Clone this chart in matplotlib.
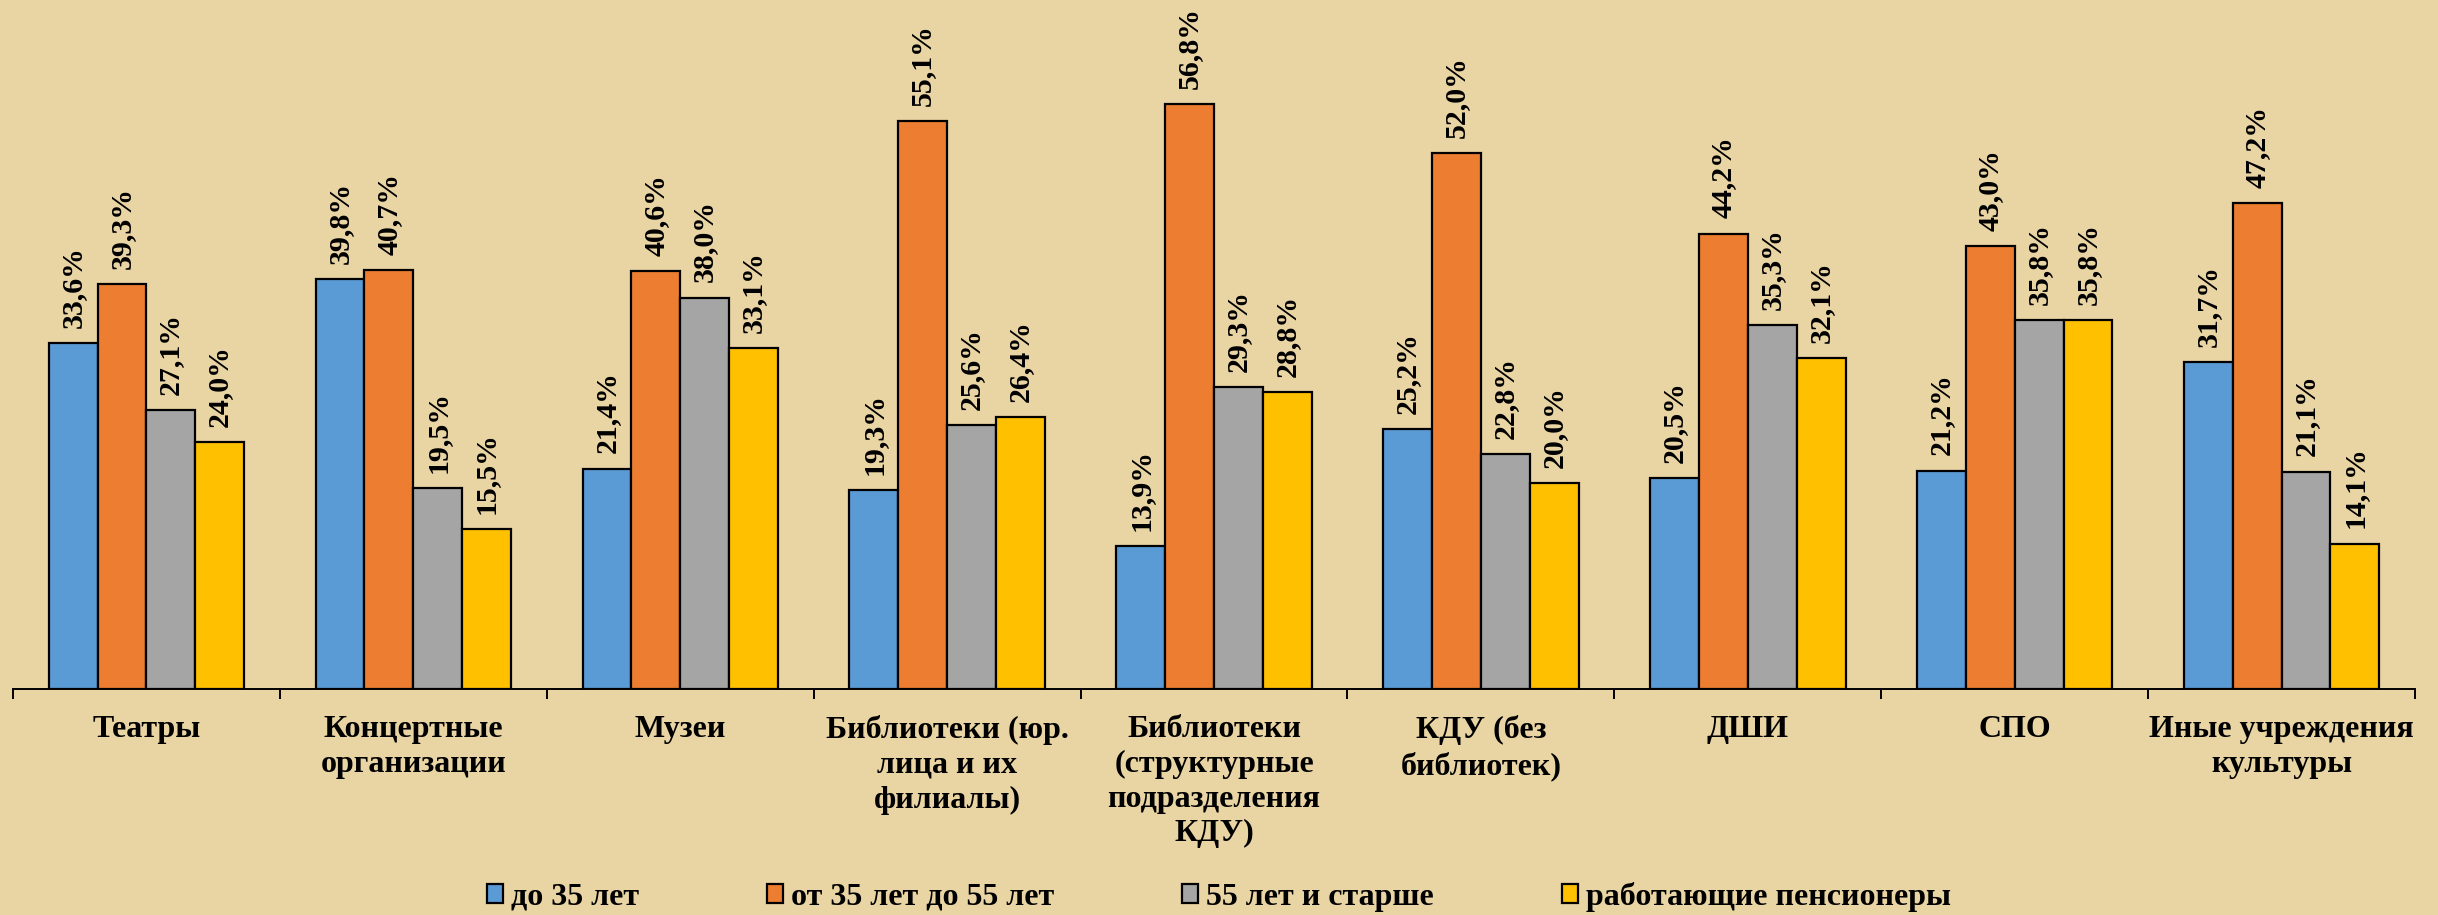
import numpy as np
import matplotlib
matplotlib.use("Agg")
import matplotlib.pyplot as plt

categories = ["Театры", "Концертные\nорганизации", "Музеи",
              "Библиотеки (юр.\nлица и их\nфилиалы)",
              "Библиотеки\n(структурные\nподразделения\nКДУ)",
              "КДУ (без\nбиблиотек)", "ДШИ", "СПО",
              "Иные учреждения\nкультуры"]
series_names = ["до 35 лет", "от 35 лет до 55 лет", "55 лет и старше",
                "работающие пенсионеры"]
under_35 = [33.6, 39.8, 21.4, 19.3, 13.9, 25.2, 20.5, 21.2, 31.7]
from_35_to_55 = [39.3, 40.7, 40.6, 55.1, 56.8, 52.0, 44.2, 43.0, 47.2]
over_55 = [27.1, 19.5, 38.0, 25.6, 29.3, 22.8, 35.3, 35.8, 21.1]
pensioners = [24.0, 15.5, 33.1, 26.4, 28.8, 20.0, 32.1, 35.8, 14.1]
colors = ["#5B9BD5", "#ED7D31", "#A5A5A5", "#FFC000"]

plt.rcParams['font.family'] = ['Liberation Serif', 'DejaVu Serif']
plt.rcParams['font.weight'] = 'bold'

bg = "#E9D4A4"
fig = plt.figure(figsize=(24.38, 9.15), dpi=100, facecolor=bg)
ax = fig.add_axes([0.0053, 0.247, 0.9853, 0.6754])
ax.set_facecolor(bg)

x = np.arange(len(categories))
width = 0.183
all_series = [under_35, from_35_to_55, over_55, pensioners]
for i, vals in enumerate(all_series):
    pos = x + (i - 1.5) * width
    bars = ax.bar(pos, vals, width, color=colors[i], edgecolor='black',
                  linewidth=1.6, label=series_names[i])
    for xp, v in zip(pos, vals):
        ax.annotate(f"{v:.1f}%".replace('.', ','), (xp, v), xytext=(0, 11),
                    textcoords='offset points', rotation=90, ha='center',
                    va='bottom', fontsize=21.5, fontweight='bold',
                    annotation_clip=False)

ax.set_xlim(-0.5, len(categories) - 0.5)
ax.set_ylim(0, 60)
ax.set_yticks([])
for s in ['top', 'right', 'left']:
    ax.spines[s].set_visible(False)
ax.spines['bottom'].set_linewidth(1.4)

ax.set_xticks(np.arange(-0.5, len(categories)), labels=[])
ax.tick_params(axis='x', which='major', length=7, width=1.4, direction='out')
ax.set_xticks(x, labels=categories, minor=True)
ax.tick_params(axis='x', which='minor', length=0, pad=19, labelsize=23)
for lbl in ax.get_xticklabels(minor=True):
    lbl.set_fontweight('bold')
    lbl.set_linespacing(1.25)
    lbl.set_verticalalignment('top')

fig.legend(loc='center', bbox_to_anchor=(0.5, 0.02), ncol=4, frameon=False,
           handlelength=0.5, handleheight=0.55,
           handletextpad=0.25, columnspacing=4.0,
           prop={'weight': 'bold', 'size': 23})

fig.savefig('out.png', dpi=100, facecolor=bg)
